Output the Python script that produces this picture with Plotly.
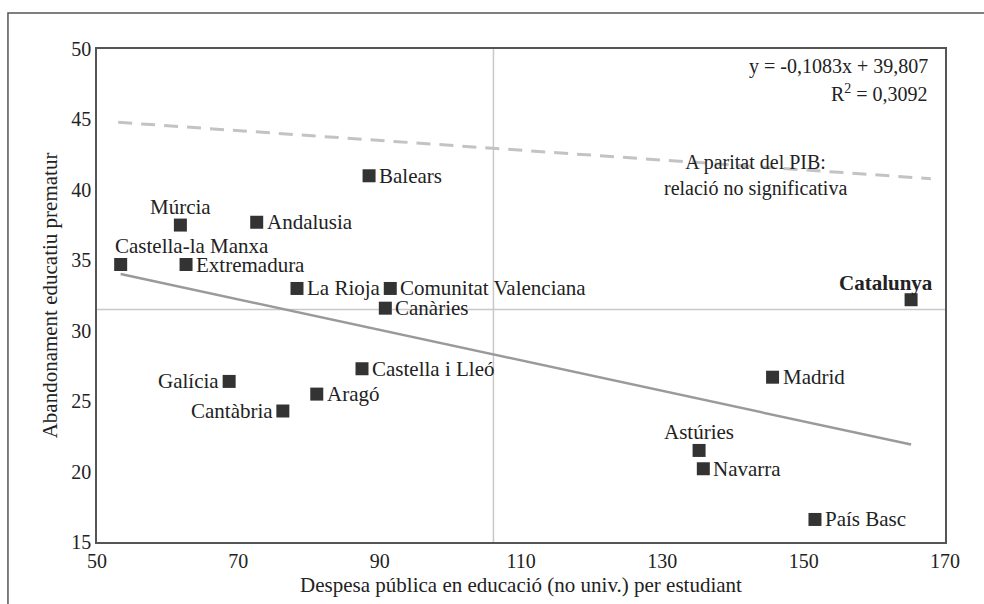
import plotly.graph_objects as go

# Regions: public spending on non-university education per student (x)
# versus early school leaving rate (y)
regions = [
    "Múrcia", "Andalusia", "Castella-la Manxa", "Extremadura", "La Rioja",
    "Comunitat Valenciana", "Canàries", "Galícia", "Cantàbria", "Aragó",
    "Castella i Lleó", "Balears", "Catalunya", "Madrid", "Astúries",
    "Navarra", "País Basc",
]
despesa = [
    61.8, 72.6, 53.35, 62.6, 78.3,
    91.5, 90.8, 68.7, 76.3, 81.1,
    87.5, 88.5, 165.2, 145.6, 135.2,
    135.8, 151.6,
]
abandonament = [
    37.5, 37.7, 34.7, 34.7, 33.0,
    33.0, 31.6, 26.4, 24.3, 25.5,
    27.3, 41.0, 32.2, 26.7, 21.5,
    20.2, 16.6,
]
# label placement relative to the marker: r=right, l=left, t=above centred,
# tl=above starting at marker, tr=above ending at marker
label_pos = [
    "t", "r", "tl", "r", "r",
    "r", "r", "l", "l", "r",
    "r", "r", "tr", "r", "t",
    "r", "r",
]

# linear fit (per student) and the PIB-parity fit
fit_slope, fit_intercept = -0.1083, 39.807
pib_slope, pib_intercept = -0.0348, 46.64
pib_x_range = [53.0, 168.0]

# reference lines
ref_x = 106.1
ref_y = 31.5

x_ticks = [50, 70, 90, 110, 130, 150, 170]
y_ticks = [15, 20, 25, 30, 35, 40, 45, 50]

FONT = "Liberation Serif"
TXT = "#222222"

fig = go.Figure()

# PIB-parity relation (dashed)
fig.add_trace(go.Scatter(
    x=pib_x_range,
    y=[pib_slope * v + pib_intercept for v in pib_x_range],
    mode="lines",
    line=dict(color="#c3c3c3", width=3, dash="14px,9px"),
    hoverinfo="skip", showlegend=False,
))

# regression line across the data range
xmin, xmax = min(despesa), max(despesa)
fig.add_trace(go.Scatter(
    x=[xmin, xmax],
    y=[fit_slope * xmin + fit_intercept, fit_slope * xmax + fit_intercept],
    mode="lines",
    line=dict(color="#9a9a9a", width=2.5),
    hoverinfo="skip", showlegend=False,
))

fig.add_trace(go.Scatter(
    x=despesa, y=abandonament, mode="markers",
    marker=dict(symbol="square", size=13, color="#333333"),
    text=regions, hoverinfo="text", showlegend=False,
))

# region labels
for name, xv, yv, pos in zip(regions, despesa, abandonament, label_pos):
    label = f"<b>{name}</b>" if name == "Catalunya" else name
    kw = dict(x=xv, y=yv, text=label, showarrow=False,
              font=dict(family=FONT, size=21, color=TXT))
    if pos == "r":
        kw.update(xanchor="left", yanchor="middle", xshift=8)
    elif pos == "l":
        kw.update(xanchor="right", yanchor="middle", xshift=-8)
    elif pos == "t":
        kw.update(xanchor="center", yanchor="middle", yshift=18)
    elif pos == "tl":
        kw.update(xanchor="left", yanchor="middle", xshift=-8, yshift=19)
    elif pos == "tr":
        kw.update(xanchor="right", yanchor="middle", xshift=24, yshift=17)
    fig.add_annotation(**kw)

# reference lines
fig.add_shape(type="line", xref="x", yref="paper", x0=ref_x, x1=ref_x,
              y0=0, y1=1, line=dict(color="#c8c8c8", width=1.5), layer="below")
fig.add_shape(type="line", xref="paper", yref="y", x0=0, x1=1,
              y0=ref_y, y1=ref_y, line=dict(color="#c8c8c8", width=1.5),
              layer="below")

# outer frame of the figure
fig.add_shape(type="rect", xref="paper", yref="paper",
              x0=-0.105, x1=1.06, y0=-0.16, y1=1.073,
              line=dict(color="#555555", width=1.5))

# equation and notes
fig.add_annotation(xref="paper", yref="paper", x=0.982, y=0.9635,
                   text="y = -0,1083x + 39,807", showarrow=False,
                   xanchor="right", yanchor="middle",
                   font=dict(family=FONT, size=20, color=TXT))
fig.add_annotation(xref="paper", yref="paper", x=0.982, y=0.9108,
                   text="R<sup>2</sup> = 0,3092", showarrow=False,
                   xanchor="right", yanchor="middle",
                   font=dict(family=FONT, size=20, color=TXT))
fig.add_annotation(xref="paper", yref="paper", x=0.776, y=0.7434,
                   text="A paritat del PIB:<br>relació no significativa",
                   showarrow=False, xanchor="center", yanchor="middle",
                   align="center",
                   font=dict(family=FONT, size=20, color=TXT))

axis_common = dict(showgrid=False, zeroline=False, showline=True,
                   linecolor="#555555", linewidth=1.5, mirror=True,
                   ticks="", tickfont=dict(family=FONT, size=20, color=TXT))

fig.update_layout(
    width=984, height=604,
    margin=dict(l=97, r=39, t=49, b=62),
    paper_bgcolor="white", plot_bgcolor="white",
    font=dict(family=FONT, color=TXT),
    xaxis=dict(range=[50, 170], tickvals=x_ticks, **axis_common,
               title=dict(text="Despesa pública en educació (no univ.) per estudiant",
                          font=dict(family=FONT, size=21, color=TXT),
                          standoff=7)),
    yaxis=dict(range=[15, 50], tickvals=y_ticks, **axis_common,
               title=dict(text="Abandonament educatiu prematur",
                          font=dict(family=FONT, size=21, color=TXT),
                          standoff=8)),
)

fig.write_html("out.html")
